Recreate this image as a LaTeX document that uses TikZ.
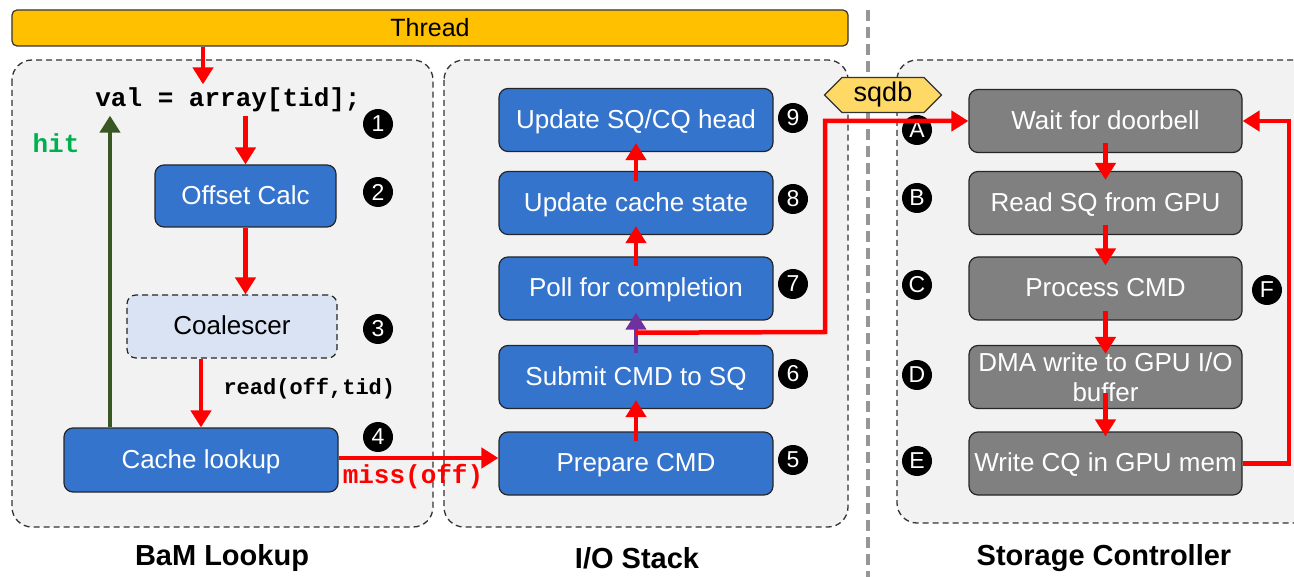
\documentclass[tikz,border=0pt]{standalone}
\usepackage{fontspec}
\setmainfont{Liberation Sans}
\setmonofont{Liberation Mono}
\usetikzlibrary{arrows.meta,shapes.symbols,calc}

\definecolor{threadfill}{RGB}{255,192,0}
\definecolor{bamblue}{RGB}{53,116,204}
\definecolor{ssdgray}{RGB}{128,128,128}
\definecolor{panelfill}{RGB}{242,242,242}
\definecolor{coalfill}{RGB}{218,227,243}
\definecolor{sqdbfill}{RGB}{255,217,102}
\definecolor{hitdark}{RGB}{56,87,35}
\definecolor{hitgreen}{RGB}{0,176,80}
\definecolor{pollpurple}{RGB}{112,48,160}
\definecolor{sepgray}{RGB}{150,150,150}

\tikzset{
  panelbox/.style={draw=black!80, dash pattern=on 6pt off 4pt, line width=1.3pt,
    rounded corners=20pt, fill=panelfill},
  stepbox/.style={draw=black!85, line width=1.2pt, rounded corners=9pt,
    minimum height=63pt, inner sep=0pt, text=white, align=center,
    font=\fontsize{26}{30}\selectfont},
  onerow/.style={text depth=2pt},
  bluebox/.style={stepbox, onerow, fill=bamblue, minimum width=274pt},
  graybox/.style={stepbox, fill=ssdgray, minimum width=273pt},
  badge/.style={circle, fill=black, text=white, minimum size=30pt, inner sep=0pt,
    font=\fontsize{23}{23}\selectfont},
  code/.style={font=\ttfamily\bfseries\fontsize{26}{26}\selectfont},
  title/.style={font=\bfseries\fontsize{29}{29}\selectfont},
  tip/.style={-{Triangle[length=17pt,width=20pt]}},
  arr/.style={red, line width=4.5pt, tip},
  inset/.style={shorten <=-10pt, shorten >=-9pt},
  redline/.style={red, line width=4.5pt},
}

\begin{document}
\begin{tikzpicture}[x=1pt,y=-1pt]
\clip (0,0) rectangle (1294,577);
\fill[white] (0,0) rectangle (1294,577);

% panels
\path[panelbox] (12,60) rectangle (433,527);
\path[panelbox] (444,60) rectangle (848,527);
\path[panelbox] (897,60) rectangle (1330,523);

% separator between host and device
\draw[sepgray, line width=4pt, dash pattern=on 11pt off 6pt] (868,10) -- (868,577);

% thread bar
\node[draw=black!80, line width=1.2pt, fill=threadfill, rounded corners=5pt,
  minimum width=836pt, minimum height=36pt, inner sep=0pt, text depth=2pt,
  font=\fontsize{25}{25}\selectfont] (thread) at (430,28) {Thread};

% BaM lookup
\node[code] (val) at (228,100) {val = array[tid];};
\node[bluebox, minimum width=181pt, minimum height=62pt] (off) at (245.5,196) {Offset Calc};
\node[stepbox, onerow, fill=coalfill, text=black, dash pattern=on 6pt off 4pt,
  minimum width=210pt] (coal) at (232,326.5) {Coalescer};
\node[bluebox, minimum height=64pt] (cache) at (201,460) {Cache lookup};
\node[code, font=\ttfamily\bfseries\fontsize{22}{22}\selectfont, anchor=west]
  (readlbl) at (220,389) {read(off,tid)};
\node[code, text=hitgreen] (hitlbl) at (56,143) {hit};
\node[code, text=red] (misslbl) at (413,477) {miss(off)};

\node[badge] (n1) at (378,124) {1};
\node[badge] (n2) at (378,192) {2};
\node[badge] (n3) at (378,329) {3};
\node[badge] (n4) at (378,437) {4};

% I/O stack
\node[bluebox] (head)  at (636,120)   {Update SQ/CQ head};
\node[bluebox] (state) at (636,203)   {Update cache state};
\node[bluebox] (poll)  at (636,288.5) {Poll for completion};
\node[bluebox] (sub)   at (636,377)   {Submit CMD to SQ};
\node[bluebox] (prep)  at (636,463.5) {Prepare CMD};

\node[badge] (n9) at (793,118) {9};
\node[badge] (n8) at (793,199) {8};
\node[badge] (n7) at (793,284) {7};
\node[badge] (n6) at (793,374) {6};
\node[badge] (n5) at (793,460) {5};

% storage controller
\node[graybox, onerow] (wait) at (1105.5,121)   {Wait for doorbell};
\node[graybox, onerow] (rdsq) at (1105.5,203)   {Read SQ from GPU};
\node[graybox, onerow] (proc) at (1105.5,288.5) {Process CMD};
\node[graybox] (dma)  at (1105.5,377)   {DMA write to GPU I/O\\buffer};
\node[graybox, onerow] (wcq)  at (1105.5,463.5) {Write CQ in GPU mem};

\node[badge] (lA) at (917,130) {A};
\node[badge] (lB) at (917,198) {B};
\node[badge] (lC) at (917,285) {C};
\node[badge] (lD) at (917,375) {D};
\node[badge] (lE) at (917,461) {E};
\node[badge] (lF) at (1267,290) {F};

% doorbell tag
\node[signal, signal to=west and east, draw=black!80, line width=1.2pt,
  fill=sqdbfill, minimum width=117pt, minimum height=35pt, inner sep=0pt,
  font=\fontsize{27}{27}\selectfont] (sqdb) at (883,95) {sqdb};

% BaM lookup flow
\draw[arr] (thread.south -| 203,0) -- (val.north -| 203,0);
\draw[arr] (val.south -| off.north) -- (off.north);
\draw[arr] (off.south) -- (coal.north -| off.south);
\draw[arr] (coal.south -| cache.north) -- (cache.north);
\draw[hitdark, line width=4.5pt, tip]
  (cache.north -| 110,0) -- (val.south -| 110,0);
\draw[arr] ([yshift=2pt]cache.east) -- ([yshift=2pt]cache.east -| prep.west);

% I/O stack flow
\draw[arr, inset] (prep.north) -- (sub.south);
\draw[pollpurple, line width=4.5pt, tip, shorten <=-8pt, shorten >=-8pt]
  (sub.north) -- (poll.south);
\draw[arr, inset] (poll.north) -- (state.south);
\draw[arr, inset] (state.north) -- (head.south);

% doorbell ring to the controller
\coordinate (ring) at ($(sub.north)!0.5!(poll.south)$);
\coordinate (jog) at (825,332);
\draw[redline, tip, line join=miter] (ring) -- (jog) |- (wait.west);

% storage controller flow
\draw[arr, inset] (wait.south) -- (rdsq.north);
\draw[arr, inset] (rdsq.south) -- (proc.north);
\draw[arr, inset] (proc.south) -- (dma.north);
\draw[arr, shorten >=-5pt] ([yshift=16pt]dma.south) -- (wcq.north);
\draw[redline, tip, line join=miter]
  (wcq.east) -- (wcq.east -| 1289,0) |- (wait.east);

% column titles
\node[title] (t1) at (222,558) {BaM Lookup};
\node[title] (t2) at (637,558) {I/O Stack};
\node[title] (t3) at (1104,558) {Storage Controller};
\end{tikzpicture}
\end{document}
